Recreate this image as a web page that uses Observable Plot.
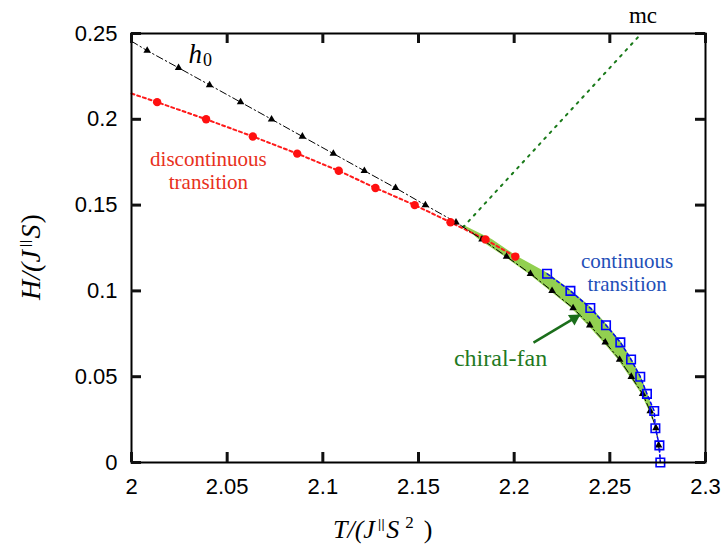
<!DOCTYPE html>
<html><head><meta charset="utf-8">
<script src="https://cdn.jsdelivr.net/npm/d3@7"></script>
<script src="https://cdn.jsdelivr.net/npm/@observablehq/plot@0.6"></script>
<style>body{margin:0;background:#fff;}</style>
</head><body><div id="chart"></div>
<script>
// h0 line (triangles)
const h0T = [2.0082, 2.0246, 2.0408, 2.0570, 2.0732, 2.0893, 2.1055, 2.1217, 2.1380, 2.1536, 2.1696, 2.1832, 2.1960, 2.2085, 2.2198, 2.2308, 2.2395, 2.2476, 2.2551, 2.2612, 2.2671, 2.2711, 2.2741, 2.2755];
const h0H = [0.24, 0.23, 0.22, 0.21, 0.20, 0.19, 0.18, 0.17, 0.16, 0.15, 0.14, 0.13, 0.12, 0.11, 0.10, 0.09, 0.08, 0.07, 0.06, 0.05, 0.04, 0.03, 0.02, 0.01];
const h0StartT = 2.0, h0StartH = 0.2455, h0EndT = 2.2764, h0EndH = 0;
// discontinuous transition (red circles)
const discT = [2.0134, 2.0390, 2.0634, 2.0866, 2.1083, 2.1275, 2.1480, 2.1667, 2.1850, 2.2006];
const discH = [0.21, 0.20, 0.19, 0.18, 0.17, 0.16, 0.15, 0.14, 0.13, 0.12];
const discStartT = 2.0, discStartH = 0.2150;
// continuous transition (blue squares)
const contT = [2.2172, 2.2294, 2.2398, 2.2480, 2.2555, 2.2611, 2.2659, 2.2694, 2.2732, 2.2738, 2.2759, 2.2764];
const contH = [0.11, 0.10, 0.09, 0.08, 0.07, 0.06, 0.05, 0.04, 0.03, 0.02, 0.01, 0.0];
// mc line
const mcT = [2.1733, 2.2665];
const mcH = [0.1371, 0.25];
// chiral-fan region
const fanH  = [0.138, 0.13, 0.12, 0.11, 0.10, 0.09, 0.08, 0.07, 0.06, 0.05, 0.04, 0.03, 0.025];
const fanLo = [2.1730, 2.1815, 2.1950, 2.2075, 2.2188, 2.2298, 2.2386, 2.2467, 2.2543, 2.2605, 2.2665, 2.2706, 2.2722];
const fanHi = [2.1740, 2.1885, 2.2016, 2.2180, 2.2302, 2.2406, 2.2488, 2.2562, 2.2617, 2.2664, 2.2698, 2.2728, 2.2730];
// arrow
const arrowFrom = [2.2101, 0.0699], arrowTo = [2.2346, 0.0862];
// ticks
const xTicks = [2, 2.05, 2.1, 2.15, 2.2, 2.25, 2.3];
const yTicks = [0, 0.05, 0.1, 0.15, 0.2, 0.25];
const xDomain = [2, 2.3], yDomain = [0, 0.25];

const h0Pts = h0T.map((T, i) => ({T, H: h0H[i]}));
const h0Line = [{T: h0StartT, H: h0StartH}, ...h0Pts, {T: h0EndT, H: h0EndH}];
const discPts = discT.map((T, i) => ({T, H: discH[i]}));
const discLine = [{T: discStartT, H: discStartH}, ...discPts];
const contPts = contT.map((T, i) => ({T, H: contH[i]}));
const mcLine = mcT.map((T, i) => ({T, H: mcH[i]}));
const fan = fanH.map((H, i) => ({H, lo: fanLo[i], hi: fanHi[i]}));
const arrow = [{x1: arrowFrom[0], y1: arrowFrom[1], x2: arrowTo[0], y2: arrowTo[1]}];

const serif = "'Liberation Serif', 'Times New Roman', serif";
const sans = "'Liberation Sans', Arial, sans-serif";
const fmt = d3.format("~g");
const none = () => "";

const chart = Plot.plot({
  width: 724, height: 554,
  marginLeft: 131, marginRight: 19, marginTop: 33, marginBottom: 92,
  x: {domain: xDomain},
  y: {domain: yDomain},
  marks: [
    Plot.areaX(fan, {y: "H", x1: "lo", x2: "hi", fill: "#92d050", curve: "linear"}),
    Plot.line(mcLine, {x: "T", y: "H", stroke: "#1a7a1a", strokeWidth: 2, strokeDasharray: "2,6"}),
    Plot.line(discLine, {x: "T", y: "H", stroke: "#ff1a1a", strokeWidth: 2, strokeDasharray: "3,3"}),
    Plot.line(h0Line, {x: "T", y: "H", stroke: "black", strokeWidth: 1, strokeDasharray: "7,3,1.5,3"}),
    Plot.line(contPts, {x: "T", y: "H", stroke: "#0000ff", strokeWidth: 1.5, strokeDasharray: "3,3"}),
    Plot.dot(h0Pts, {x: "T", y: "H", symbol: "triangle", r: 2.8, fill: "black"}),
    Plot.dot(discPts, {x: "T", y: "H", r: 4.2, fill: "#ff1010"}),
    Plot.dot(contPts, {x: "T", y: "H", symbol: "square", r: 4.8, stroke: "#0000ff", strokeWidth: 1.6, fill: "none"}),
    Plot.link(arrow, {x1: "x1", y1: "y1", x2: "x2", y2: "y2", stroke: "#1b6e1b", strokeWidth: 2.5}),
    Plot.dot(arrow, {x: "x2", y: "y2", symbol: "triangle", r: 4.6, rotate: 58, dx: -6.1, dy: 3.8, fill: "#1b6e1b"}),
    Plot.text(["discontinuous\ntransition"], {x: 2.0402, y: 0.1703, fill: "#e8301c", fontFamily: serif, fontSize: 21, lineHeight: 1.1}),
    Plot.text(["continuous\ntransition"], {x: 2.2590, y: 0.1110, fill: "#1f4fb8", fontFamily: serif, fontSize: 21, lineHeight: 1.1}),
    Plot.text(["chiral-fan"], {x: 2.1929, y: 0.0610, fill: "#1f7a1f", fontFamily: serif, fontSize: 24}),
    Plot.text(["h"], {x: 2.0298, y: 0.2378, textAnchor: "start", fill: "black", fontFamily: serif, fontStyle: "italic", fontSize: 27}),
    Plot.text(["0"], {x: 2.0374, y: 0.2347, textAnchor: "start", fill: "black", fontFamily: serif, fontSize: 18}),
    Plot.text(["mc"], {x: 2.2673, y: 0.2603, fill: "black", fontFamily: serif, fontSize: 23}),
    // tick labels
    Plot.axisX({ticks: xTicks, tickSize: 0, tickPadding: 16, tickFormat: fmt, label: null, fill: "black", fontFamily: sans, fontSize: 22}),
    Plot.axisY({ticks: yTicks, tickSize: 0, tickPadding: 14, tickFormat: fmt, label: null, fill: "black", fontFamily: sans, fontSize: 22}),
    Plot.frame({stroke: "black", strokeWidth: 2}),
    // inward ticks on all four sides
    Plot.tickX(xTicks, {x: d => d, insetTop: 419, stroke: "#111", strokeWidth: 3}),
    Plot.tickX(xTicks, {x: d => d, insetBottom: 419, stroke: "#111", strokeWidth: 3}),
    Plot.tickY(yTicks, {y: d => d, insetRight: 564, stroke: "#111", strokeWidth: 3}),
    Plot.tickY(yTicks, {y: d => d, insetLeft: 564, stroke: "#111", strokeWidth: 3})
  ]
});
document.getElementById("chart").appendChild(chart);

// axis titles with superscripts
const svg = d3.select(chart);
const xl = svg.append("text").attr("x", 333).attr("y", 538).attr("text-anchor", "start")
  .attr("font-family", serif).attr("font-size", 26).attr("fill", "black");
xl.append("tspan").attr("font-style", "italic").text("T/(J");
xl.append("tspan").attr("font-family", sans).attr("font-size", 12).attr("dy", -10).attr("dx", 3).attr("letter-spacing", 0.5).text("||");
xl.append("tspan").attr("font-style", "italic").attr("dy", 10).attr("dx", 1).text("S");
xl.append("tspan").attr("font-size", 17).attr("dy", -10).attr("dx", 6).text("2");
xl.append("tspan").attr("dy", 10).attr("dx", 10).text(")");

const yl = svg.append("text").attr("transform", "translate(40,257) rotate(-90)").attr("text-anchor", "middle")
  .attr("font-family", serif).attr("font-size", 28).attr("fill", "black");
yl.append("tspan").attr("font-style", "italic").text("H/(J");
yl.append("tspan").attr("font-family", sans).attr("font-size", 13).attr("dy", -11).attr("dx", 3).attr("letter-spacing", 0.5).text("||");
yl.append("tspan").attr("font-style", "italic").attr("dy", 11).attr("dx", 1).text("S");
yl.append("tspan").attr("dx", 1).text(")");
</script>
</body></html>
